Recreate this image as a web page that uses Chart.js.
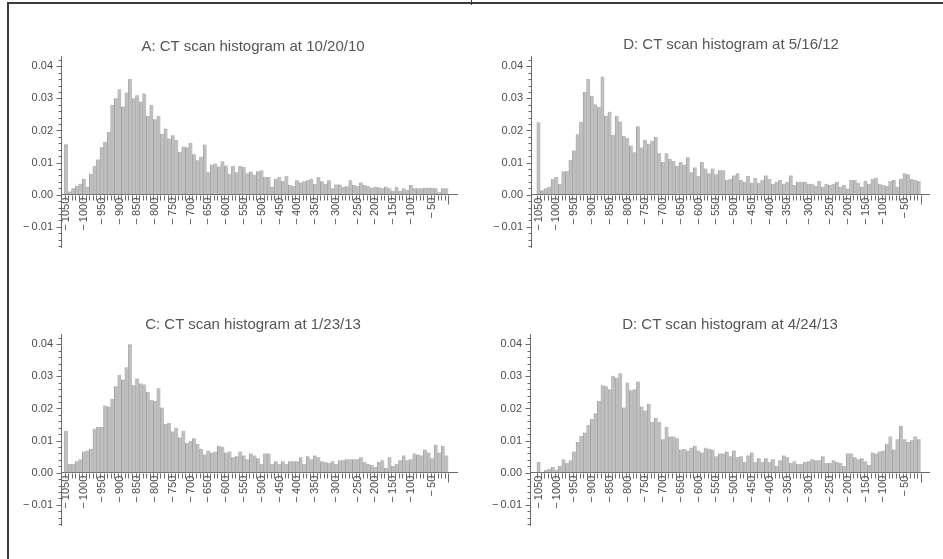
<!DOCTYPE html>
<html>
<head>
<meta charset="utf-8">
<script src="https://cdn.jsdelivr.net/npm/chart.js@4.4.0/dist/chart.umd.min.js"></script>
<style>
  html, body { margin: 0; padding: 0; background: #fff; }
  body { width: 943px; height: 559px; position: relative; overflow: hidden; font-family: "Liberation Sans", Arial, sans-serif; }
  .frame { position: absolute; left: 7px; top: 2px; right: -4px; bottom: -4px; border-top: 2px solid #3a3a3a; border-left: 2px solid #3a3a3a; }
  .notch { position: absolute; left: 471px; top: 0; width: 1px; height: 5px; background: #3a3a3a; }
  .title { position: absolute; font-size: 15px; color: #555; white-space: nowrap; transform: translate(-50%, -50%); }
  canvas { position: absolute; }
</style>
</head>
<body>
<div class="frame"></div>
<div class="notch"></div>
<script>
// histogram bins (HU), 108 bars per scan; labels sit under these bar indices
const binLabels = ["\u2212\u20091050", "\u2212\u20091000", "\u2212\u2009950", "\u2212\u2009900", "\u2212\u2009850",
  "\u2212\u2009800", "\u2212\u2009750", "\u2212\u2009700", "\u2212\u2009650", "\u2212\u2009600", "\u2212\u2009550",
  "\u2212\u2009500", "\u2212\u2009450", "\u2212\u2009400", "\u2212\u2009350", "\u2212\u2009300", "\u2212\u2009250",
  "\u2212\u2009200", "\u2212\u2009150", "\u2212\u2009100", "\u2212\u200950"];
const labelBins = [0, 5, 10, 15, 20, 25, 30, 35, 40, 45, 50, 55, 60, 65, 70, 76, 82, 87, 92, 97, 103];

const yTicks = [-0.01, 0, 0.01, 0.02, 0.03, 0.04];
const yTickLabels = ["\u2212\u20090.01", "0.00", "0.01", "0.02", "0.03", "0.04"];

const titles = [
  "A: CT scan histogram at 10/20/10",
  "D: CT scan histogram at 5/16/12",
  "C: CT scan histogram at 1/23/13",
  "D: CT scan histogram at 4/24/13"
];

const scanA = [0.0157, 0.001, 0.002, 0.0028, 0.0034, 0.0049, 0.0025, 0.0065, 0.009, 0.011,
  0.0148, 0.0165, 0.0195, 0.028, 0.030, 0.0328, 0.0275, 0.0318, 0.036, 0.030,
  0.031, 0.029, 0.0315, 0.0245, 0.028, 0.0235, 0.0245, 0.019, 0.0206, 0.0175,
  0.0185, 0.017, 0.0133, 0.015, 0.0148, 0.0162, 0.0126, 0.0107, 0.0118, 0.0156,
  0.007, 0.0094, 0.0097, 0.0088, 0.0104, 0.0091, 0.0065, 0.009, 0.007, 0.009,
  0.0086, 0.0067, 0.0072, 0.0062, 0.0073, 0.0076, 0.0056, 0.0055, 0.0025, 0.005,
  0.0055, 0.0043, 0.0058, 0.003, 0.0027, 0.0045, 0.0038, 0.0042, 0.0045, 0.005,
  0.0033, 0.0055, 0.0042, 0.0033, 0.0045, 0.002, 0.0032, 0.0032, 0.0025, 0.0026,
  0.0045, 0.003, 0.0027, 0.0038, 0.003, 0.0027, 0.0022, 0.0025, 0.0023, 0.002,
  0.0025, 0.002, 0.0012, 0.0025, 0.0012, 0.002, 0.0015, 0.003, 0.002, 0.002,
  0.002, 0.0022, 0.0022, 0.0022, 0.002, 0.0008, 0.002, 0.002];

const scanB = [0.0226, 0.0014, 0.002, 0.0025, 0.0049, 0.0055, 0.0034, 0.0073, 0.0073, 0.0108,
  0.0138, 0.0188, 0.0227, 0.032, 0.036, 0.0308, 0.0282, 0.0273, 0.0368, 0.0246,
  0.0258, 0.0186, 0.0246, 0.0228, 0.0183, 0.0177, 0.0153, 0.0132, 0.0213, 0.0147,
  0.0171, 0.0159, 0.0168, 0.018, 0.0129, 0.0102, 0.0129, 0.0111, 0.0105, 0.009,
  0.0102, 0.0094, 0.0117, 0.007, 0.0085, 0.0058, 0.0102, 0.0082, 0.0067, 0.0082,
  0.0064, 0.0076, 0.0076, 0.0046, 0.0049, 0.006, 0.0067, 0.0046, 0.004, 0.0058,
  0.0037, 0.0052, 0.0037, 0.0046, 0.006, 0.0049, 0.0034, 0.004, 0.0046, 0.0034,
  0.004, 0.006, 0.003, 0.004, 0.004, 0.004, 0.0034, 0.0034, 0.0028, 0.0043,
  0.0025, 0.0034, 0.003, 0.0034, 0.004, 0.0025, 0.003, 0.0019, 0.0046, 0.0046,
  0.0037, 0.0025, 0.0043, 0.0034, 0.0049, 0.0052, 0.0034, 0.003, 0.0028, 0.0043,
  0.0046, 0.0025, 0.0049, 0.0067, 0.0064, 0.0049, 0.0046, 0.0043];

const scanC = [0.0131, 0.0027, 0.0027, 0.0036, 0.0042, 0.0066, 0.0069, 0.0075, 0.0137, 0.0143,
  0.0143, 0.0209, 0.0206, 0.023, 0.0269, 0.0305, 0.029, 0.0328, 0.040, 0.0272,
  0.0293, 0.0278, 0.0275, 0.0251, 0.0227, 0.0224, 0.0263, 0.0203, 0.0152, 0.0155,
  0.0128, 0.014, 0.011, 0.0131, 0.0093, 0.0099, 0.0107, 0.009, 0.0075, 0.0057,
  0.0069, 0.0063, 0.0066, 0.0084, 0.0081, 0.0063, 0.0066, 0.0048, 0.0051, 0.0066,
  0.0054, 0.0042, 0.006, 0.0054, 0.0045, 0.0027, 0.006, 0.006, 0.0027, 0.0036,
  0.0027, 0.0036, 0.0027, 0.0036, 0.0036, 0.0036, 0.0048, 0.0027, 0.0051, 0.0042,
  0.0054, 0.0048, 0.0036, 0.0033, 0.003, 0.0036, 0.0027, 0.0039, 0.0039, 0.0042,
  0.0042, 0.0042, 0.0042, 0.0048, 0.0033, 0.0027, 0.0024, 0.0018, 0.0033, 0.0039,
  0.0015, 0.0048, 0.0021, 0.0027, 0.0039, 0.0054, 0.0039, 0.0042, 0.006, 0.0057,
  0.0054, 0.0072, 0.0063, 0.0045, 0.0087, 0.0063, 0.0084, 0.0054];

const scanD = [0.0033, 0.0003, 0.0009, 0.0012, 0.0018, 0.0009, 0.0021, 0.0042, 0.003, 0.0039,
  0.0066, 0.0096, 0.0114, 0.0125, 0.0149, 0.0167, 0.0185, 0.0224, 0.0272, 0.0269,
  0.026, 0.0302, 0.0296, 0.031, 0.0203, 0.0281, 0.0257, 0.026, 0.0284, 0.0206,
  0.0194, 0.0215, 0.0158, 0.017, 0.0158, 0.0104, 0.0143, 0.0113, 0.0113, 0.0107,
  0.0072, 0.0075, 0.0069, 0.0078, 0.0084, 0.0069, 0.0063, 0.0078, 0.0075, 0.0072,
  0.0051, 0.006, 0.006, 0.0066, 0.0051, 0.0069, 0.0048, 0.0051, 0.0033, 0.0054,
  0.0063, 0.0033, 0.0045, 0.0033, 0.0045, 0.0033, 0.0042, 0.0021, 0.0039, 0.0054,
  0.0048, 0.003, 0.0036, 0.0027, 0.0027, 0.0033, 0.0036, 0.0042, 0.0039, 0.0039,
  0.0051, 0.003, 0.003, 0.0039, 0.0033, 0.003, 0.0021, 0.006, 0.006, 0.0048,
  0.0042, 0.0045, 0.0036, 0.0024, 0.0063, 0.006, 0.0066, 0.0069, 0.009, 0.0113,
  0.0072, 0.0104, 0.0146, 0.0104, 0.0096, 0.0101, 0.0113, 0.0104];

const scans = [scanA, scanB, scanC, scanD];

// where each panel sits on the page (px)
const layouts = [
  { axisX: 61, axisEnd: 457, zeroY: 197, y04: 63, barStart: 64.5, barEnd: 448.3, titleX: 253, titleY: 45 },
  { axisX: 531, axisEnd: 929, zeroY: 197, y04: 63, barStart: 536.9, barEnd: 920.7, titleX: 731, titleY: 43 },
  { axisX: 61, axisEnd: 457, zeroY: 475, y04: 341, barStart: 64.5, barEnd: 448.3, titleX: 253, titleY: 323 },
  { axisX: 530, axisEnd: 929, zeroY: 475, y04: 341, barStart: 537, barEnd: 920.7, titleX: 730, titleY: 323 }
];

const Y_MIN = -0.0164, Y_MAX = 0.043;
const AXIS_W = 55, PAD = 10, PAD_R = 8;
const axisColor = "#6a6a6a";
const textColor = "#4d4d4d";
const fontFamily = '"Liberation Sans", Arial, sans-serif';

// minor/major ticks like the original: y every 0.002, x at every bar edge
const axisTicks = {
  id: "axisTicks",
  afterDraw(chart) {
    const { ctx, chartArea, scales: { x, y } } = chart;
    const n = chart.data.datasets[0].data.length;
    const left = chartArea.left;
    const y0 = Math.round(y.getPixelForValue(0)) + 0.5;
    ctx.save();
    ctx.strokeStyle = axisColor;
    ctx.lineWidth = 1;
    ctx.beginPath();
    for (let m = -16; m <= 42; m += 2) {
      const py = Math.round(y.getPixelForValue(m / 1000)) + 0.5;
      const len = m % 10 === 0 ? 4.5 : 2.5;
      ctx.moveTo(left - len, py);
      ctx.lineTo(left, py);
    }
    for (let k = 0; k <= n; k++) {
      const px = Math.round(x.getPixelForValue(k - 0.5)) + 0.5;
      const len = k === n ? 9 : 5;
      ctx.moveTo(px, y0);
      ctx.lineTo(px, y0 + len);
    }
    ctx.stroke();
    ctx.restore();
  }
};

scans.forEach((values, i) => {
  const L = layouts[i];
  const n = values.length;
  const bw = (L.barEnd - L.barStart) / n;
  const xMin = -0.5 - (L.barStart - L.axisX) / bw;
  const xMax = n - 0.5 + (L.axisEnd - L.barEnd) / bw;
  const ppu = (L.zeroY - L.y04) / 0.04;
  const areaTop = L.zeroY - Y_MAX * ppu;
  const areaBottom = L.zeroY - Y_MIN * ppu;

  const top = Math.floor(areaTop) - PAD;
  const height = Math.ceil(areaBottom) + PAD - top;
  const width = (L.axisEnd - L.axisX) + AXIS_W + PAD_R;

  const canvas = document.createElement("canvas");
  canvas.width = width;
  canvas.height = height;
  canvas.style.left = (L.axisX - AXIS_W) + "px";
  canvas.style.top = top + "px";
  canvas.style.width = width + "px";
  canvas.style.height = height + "px";
  document.body.appendChild(canvas);

  const t = document.createElement("div");
  t.className = "title";
  t.textContent = titles[i];
  t.style.left = L.titleX + "px";
  t.style.top = L.titleY + "px";
  document.body.appendChild(t);

  new Chart(canvas.getContext("2d"), {
    type: "bar",
    data: {
      datasets: [{
        data: values.map((v, k) => ({ x: k, y: v })),
        backgroundColor: "#bfbfbf",
        borderColor: "#8e8e8e",
        borderWidth: { left: 0.6, right: 0, top: 0, bottom: 0 },
        borderSkipped: "bottom",
        barPercentage: 1,
        categoryPercentage: 1
      }]
    },
    options: {
      responsive: false,
      animation: false,
      devicePixelRatio: 1,
      layout: {
        padding: {
          left: 0,
          right: PAD_R,
          top: areaTop - top,
          bottom: top + height - areaBottom
        }
      },
      plugins: {
        legend: { display: false },
        tooltip: { enabled: false },
        title: { display: false }
      },
      scales: {
        x: {
          type: "linear",
          offset: false,
          position: { y: 0 },
          min: xMin,
          max: xMax,
          afterBuildTicks: s => { s.ticks = labelBins.map(v => ({ value: v })); },
          grid: { offset: false, drawOnChartArea: false, drawTicks: false },
          border: { color: axisColor, width: 1 },
          ticks: {
            autoSkip: false,
            minRotation: 90,
            maxRotation: 90,
            padding: 3,
            color: textColor,
            font: { family: fontFamily, size: 11 },
            callback: (v, idx) => binLabels[idx]
          }
        },
        y: {
          type: "linear",
          min: Y_MIN,
          max: Y_MAX,
          afterFit: s => { s.width = AXIS_W; },
          afterBuildTicks: s => { s.ticks = yTicks.map(v => ({ value: v })); },
          grid: { drawOnChartArea: false, drawTicks: false },
          border: { color: axisColor, width: 1 },
          ticks: {
            padding: 8,
            color: textColor,
            font: { family: fontFamily, size: 11 },
            callback: (v, idx) => yTickLabels[idx]
          }
        }
      }
    },
    plugins: [axisTicks]
  });
});
</script>
</body>
</html>
